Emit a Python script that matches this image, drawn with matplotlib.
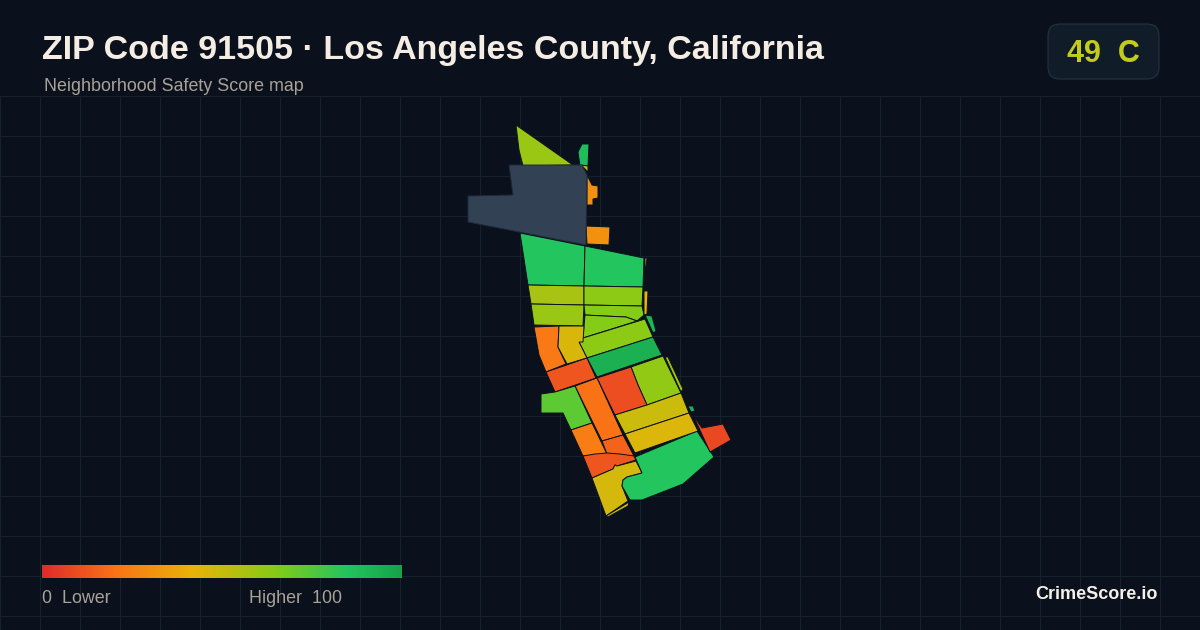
import numpy as np
from matplotlib import pyplot as plt
from matplotlib.colors import LinearSegmentedColormap
from matplotlib.patches import FancyBboxPatch, Polygon

W, H = 1200, 630
BG = '#0a111c'
GRID = '#15222e'
NO_DATA = '#334155'

# score colour ramp
ramp_stops = [0.0, 0.2, 0.42, 0.65, 0.85, 1.0]
ramp_colors = ['#e02b2b', '#f97316', '#eab308', '#84cc16', '#22c55e', '#16a34a']

# tract outlines in picture pixels, one score each
tract_scores = [
    60, 88, 56, 30, 30, 85,
    85, 85, 57, 63, 60, 65, 65, 63, 92, 22, 46,
    94, 12, 62, 58, 10, 20, 73, 24, 16, 12, 47, 85, 49, 45, 8, 92,
    50, 42, 42,
]
tract_shapes = [
    [(516, 125), (573, 165), (523, 166), (519, 150)],
    [(580, 148), (582, 144), (589, 144), (588, 166), (580, 166), (578, 152)],
    [(581, 165), (588, 166), (588, 172)],
    [(587, 175), (592, 185), (598, 186), (598, 198), (593, 199), (593, 205), (587, 205)],
    [(586, 226), (610, 227), (609, 245), (587, 244)],
    [(500, 195), (513, 195), (513, 196), (500, 196)],
    [(520, 233), (585, 246), (584, 286), (528, 285)],
    [(585, 246), (644, 258), (643, 287), (584, 286)],
    [(528, 285), (584, 286), (584, 305), (531, 304)],
    [(584, 286), (643, 287), (642, 306), (584, 305)],
    [(531, 304), (584, 305), (583, 326), (534, 325)],
    [(584, 305), (642, 306), (644, 315), (637, 321), (626, 317), (604, 316), (585, 315)],
    [(585, 315), (604, 316), (626, 317), (637, 321), (583, 338)],
    [(579, 342), (583, 338), (645, 319), (653, 337), (587, 358)],
    [(645, 315), (652, 316), (656, 331), (653, 333)],
    [(534, 327), (559, 326), (558, 347), (566, 364), (546, 372), (539, 355)],
    [(559, 326), (584, 326), (583, 342), (579, 342), (587, 358), (567, 364), (558, 347)],
    [(587, 358), (653, 337), (662, 355), (597, 377)],
    [(546, 372), (587, 358), (596, 378), (555, 392)],
    [(631, 367), (663, 356), (681, 393), (647, 405), (638, 385)],
    [(665, 357), (668, 357), (683, 389), (681, 392)],
    [(597, 378), (631, 367), (638, 385), (647, 405), (615, 415)],
    [(575, 386), (597, 378), (623, 435), (602, 441)],
    [(541, 394), (555, 392), (575, 386), (592, 423), (571, 430), (563, 413), (541, 413)],
    [(571, 430), (592, 423), (607, 454), (583, 456)],
    [(602, 441), (623, 435), (634, 456), (607, 454)],
    [(583, 456), (595, 454), (607, 453), (620, 454), (634, 456), (636, 460), (617, 466),
     (615, 465), (613, 469), (592, 478)],
    [(592, 478), (613, 469), (615, 465), (617, 466), (636, 461), (642, 473), (627, 477),
     (623, 480), (622, 486), (628, 501), (606, 516)],
    [(635, 457), (697, 431), (714, 457), (683, 484), (642, 500), (630, 500), (622, 486),
     (623, 480), (627, 477), (642, 473)],
    [(615, 415), (647, 405), (681, 393), (689, 413), (625, 434)],
    [(625, 434), (689, 413), (698, 431), (635, 453)],
    [(693, 415), (702, 428), (723, 424), (731, 440), (710, 452)],
    [(688, 406), (693, 406), (695, 411), (691, 412)],
    [(606, 516), (629, 502), (628, 506), (608, 517)],
    [(645, 258), (647, 258), (646, 267), (645, 267)],
    [(644, 291), (648, 291), (647, 314), (644, 315)],
]
no_data_shape = [(509, 165), (582, 165), (587, 175), (586, 245), (468, 222), (468, 196), (513, 195)]

title = 'ZIP Code 91505 · Los Angeles County, California'
subtitle = 'Neighborhood Safety Score map'
score_label = '49  C'

fig = plt.figure(figsize=(12, 6.3), dpi=100, facecolor=BG)
ax = fig.add_axes([0, 0, 1, 1])
ax.set_xlim(0, W)
ax.set_ylim(H, 0)
ax.axis('off')

for x in range(0, W + 1, 40):
    ax.plot([x, x], [96, H], color=GRID, lw=0.72, zorder=1)
for y in range(96, H, 40):
    ax.plot([0, W], [y, y], color=GRID, lw=0.72, zorder=1)

cmap = LinearSegmentedColormap.from_list('score', list(zip(ramp_stops, ramp_colors)))

for shape, score in zip(tract_shapes, tract_scores):
    ax.add_patch(Polygon(shape, closed=True, facecolor=cmap(score / 100),
                         edgecolor='#0a111c', lw=0.7, zorder=3))
ax.add_patch(Polygon(no_data_shape, closed=True, facecolor=NO_DATA,
                     edgecolor='#1e293b', lw=0.7, zorder=4))

# header
ax.text(42, 59, title, fontsize=24.5, fontweight='bold', family='Liberation Sans',
        color='#f5ede3', va='baseline', ha='left', zorder=6)
ax.text(44, 91, subtitle, fontsize=12.9, family='Liberation Sans',
        color='#a8a298', va='baseline', ha='left', zorder=6)

# score badge
ax.add_patch(FancyBboxPatch((1048, 24), 111, 55, boxstyle='round,pad=0,rounding_size=12',
                            facecolor='#111c29', edgecolor='#26323f', lw=0.8, zorder=5))
ax.text(1103, 62, score_label, fontsize=22, fontweight='bold', family='Liberation Sans',
        color='#c2cb1e', va='baseline', ha='center', zorder=6)

# legend bar
gradient = np.linspace(0, 1, 360).reshape(1, -1)
ax.imshow(gradient, cmap=cmap, extent=(42, 402, 578, 565), aspect='auto', zorder=5)
ax.set_xlim(0, W)
ax.set_ylim(H, 0)
ax.text(42, 603, '0  Lower', fontsize=12.9, family='Liberation Sans',
        color='#a8a298', va='baseline', ha='left', zorder=6)
ax.text(249, 603, 'Higher  100', fontsize=12.9, family='Liberation Sans',
        color='#a8a298', va='baseline', ha='left', zorder=6)

ax.text(1158, 599, 'CrimeScore.io', fontsize=13, fontweight='bold', family='Liberation Sans',
        color='#f5f1ea', va='baseline', ha='right', zorder=6)

fig.savefig('out.png', dpi=100, facecolor=BG)
